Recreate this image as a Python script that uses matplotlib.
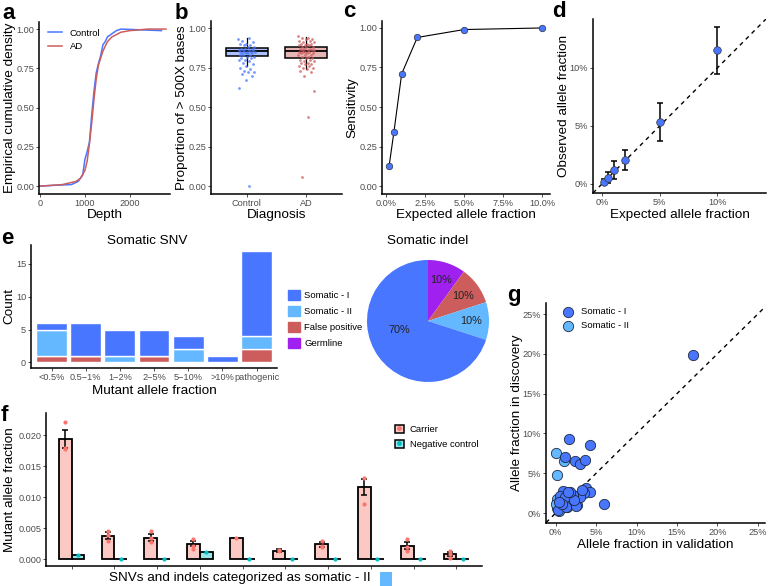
import numpy as np
import matplotlib
matplotlib.use('Agg')
import matplotlib.pyplot as plt
from matplotlib.patches import Patch, Rectangle
from matplotlib.lines import Line2D
from matplotlib.ticker import FuncFormatter

plt.rcParams['font.family'] = ['Liberation Sans', 'DejaVu Sans']

BLUE = '#4876FF'
LBLUE = '#63B8FF'
RED = '#CD5C5C'
PURPLE = '#A020F0'
GRAY = '#4D4D4D'
CARRIER = '#F8766D'
NEGCTRL = '#00BFC4'

# --- a: depth ECDF
ctrl_depth = [0, 300, 700, 850, 900, 950, 1000, 1050, 1100, 1150, 1200, 1250, 1300,
              1350, 1400, 1450, 1500, 1600, 1700, 1800, 2700]
ctrl_ecdf = [0.0, 0.005, 0.01, 0.03, 0.05, 0.07, 0.17, 0.22, 0.28, 0.45, 0.6, 0.72, 0.78,
             0.83, 0.9, 0.92, 0.95, 0.97, 0.99, 1.0, 0.99]
ad_depth = [0, 500, 800, 900, 1000, 1050, 1100, 1150, 1200, 1250, 1300, 1400, 1500,
            1600, 1800, 2000, 2400, 2800]
ad_ecdf = [0.0, 0.01, 0.03, 0.05, 0.1, 0.16, 0.27, 0.4, 0.55, 0.68, 0.77, 0.86, 0.92,
           0.95, 0.98, 0.99, 1.0, 1.0]

# --- b: proportion of > 500X bases
ctrl_box = [0.76, 0.824, 0.852, 0.877, 0.94]
ad_box = [0.74, 0.813, 0.852, 0.881, 0.945]
ctrl_prop = [0.93, 0.94, 0.92, 0.91, 0.90, 0.90, 0.89, 0.89, 0.88, 0.88, 0.87, 0.87, 0.87,
             0.86, 0.86, 0.86, 0.86, 0.85, 0.85, 0.85, 0.85, 0.85, 0.84, 0.84, 0.84, 0.84,
             0.83, 0.83, 0.83, 0.82, 0.82, 0.81, 0.81, 0.80, 0.80, 0.79, 0.78, 0.77, 0.76,
             0.75, 0.74, 0.73, 0.72, 0.72, 0.71, 0.70, 0.67, 0.62, 0.00]
ad_prop = [0.95, 0.94, 0.94, 0.93, 0.93, 0.92, 0.92, 0.91, 0.91, 0.90, 0.90, 0.90, 0.89,
           0.89, 0.89, 0.88, 0.88, 0.88, 0.87, 0.87, 0.87, 0.86, 0.86, 0.86, 0.86, 0.85,
           0.85, 0.85, 0.85, 0.84, 0.84, 0.84, 0.83, 0.83, 0.83, 0.82, 0.82, 0.81, 0.81,
           0.80, 0.80, 0.79, 0.79, 0.78, 0.78, 0.77, 0.77, 0.76, 0.76, 0.75, 0.75, 0.74,
           0.73, 0.72, 0.70, 0.60, 0.44, 0.06]

# --- c/d: dilution series
expected = [0.2, 0.5, 1, 2, 5, 10]
sensitivity = [0.13, 0.34, 0.71, 0.94, 0.99, 1.00]
observed = [0.2, 0.5, 1.2, 2.1, 5.3, 11.5]
obs_low = [0.0, 0.1, 0.4, 1.2, 3.7, 9.5]
obs_high = [0.4, 1.0, 2.0, 2.9, 7.0, 13.5]

# --- e: somatic SNV / indel
maf_bins = ['<0.5%', '0.5\u22121%', '1\u22122%', '2\u22125%', '5\u221210%', '>10%', 'pathogenic']
snv_false_pos = [1, 1, 0, 1, 0, 0, 2]
snv_somatic2 = [4, 0, 1, 0, 2, 0, 2]
snv_somatic1 = [1, 5, 4, 4, 2, 1, 13]
snv_germline = [0, 0, 0, 0, 0, 0, 0]
indel_labels = ['Germline', 'False positive', 'Somatic - II', 'Somatic - I']
indel_pct = [10, 10, 10, 70]

# --- f: somatic - II validation
carrier_mean = [0.0194, 0.0038, 0.0035, 0.0025, 0.0035, 0.0014, 0.0024, 0.0117, 0.0022, 0.0008]
carrier_se = [0.0014, 0.0006, 0.0005, 0.0004, 0.0, 0.0002, 0.0004, 0.0013, 0.0005, 0.0003]
carrier_pts = [[0.0222, 0.0180, 0.0178], [0.0046, 0.0030, 0.0039], [0.0045, 0.0034, 0.0028],
               [0.0033, 0.0021, 0.0017], [0.0035], [0.0015, 0.0013],
               [0.0030, 0.0022, 0.0019], [0.0131, 0.0089], [0.0032, 0.0020, 0.0014],
               [0.0014, 0.0008, 0.0002]]
negctrl_mean = [0.0006, 0.0001, 0.0001, 0.0012, 0.0001, 0.0001, 0.0001, 0.0001, 0.0001, 0.0001]

# --- g: discovery vs validation (%)
som1_valid = [17.0, 6.0, 1.6, 4.2, 1.2, 2.4, 3.0, 3.6, 0.9, 1.9, 3.7, 4.2, 3.5, 2.5, 1.2, 0.5,
              2.6, 1.4, 0.6, 0.3, 1.7, 3.0, 2.1, 2.5, 1.3, 1.1, 2.3, 0.8, 1.8, 3.3, 0.4, 1.5]
som1_disc = [19.9, 1.1, 9.3, 8.6, 7.0, 6.6, 6.2, 6.7, 2.8, 2.3, 3.2, 2.6, 2.5, 1.8, 1.8, 2.1,
             1.0, 0.7, 0.9, 0.4, 1.6, 2.0, 2.3, 0.9, 0.8, 2.0, 1.6, 1.2, 2.6, 2.9, 1.4, 2.7]
som2_valid = [0.0, 1.0, 0.2, 0.1, 0.1, 0.0, 0.4]
som2_disc = [7.6, 6.5, 4.8, 1.8, 0.6, 1.2, 0.3]

W, H = 768, 586
fig = plt.figure(figsize=(W / 100, H / 100), dpi=100)


def add_ax(x0, y0, x1, y1):
    return fig.add_axes([x0 / W, 1 - y1 / H, (x1 - x0) / W, (y1 - y0) / H])


def classic(ax):
    for s in ['top', 'right']:
        ax.spines[s].set_visible(False)
    for s in ['left', 'bottom']:
        ax.spines[s].set_linewidth(1.1)
    ax.tick_params(labelsize=6.6, labelcolor=GRAY, length=2.5, width=0.6,
                   color='#333333', pad=1.0)


def labels(ax, xlab, ylab, xl_y, yl_x):
    # place axis titles by their centres, in axes fractions
    if xlab:
        ax.set_xlabel(xlab, fontsize=LAB)
        ax.xaxis.set_label_coords(0.5, xl_y)
        ax.xaxis.label.set_va('center')
    ax.set_ylabel(ylab, fontsize=LAB)
    ax.yaxis.set_label_coords(yl_x, 0.5)
    ax.yaxis.label.set_va('center')


pct = FuncFormatter(lambda v, p: f'{v:g}%')
LAB = 9.7

# a
ax = add_ax(39, 22, 170, 194)
classic(ax)
ax.plot(ctrl_depth, ctrl_ecdf, color=BLUE, lw=1.1, label='Control')
ax.plot(ad_depth, ad_ecdf, color=RED, lw=1.1, label='AD')
ax.set_xlim(-20, 2890)
ax.set_ylim(-0.05, 1.045)
ax.set_xticks([0, 1000, 2000])
ax.set_yticks([0, 0.25, 0.5, 0.75, 1.0])
ax.yaxis.set_major_formatter(FuncFormatter(lambda v, p: f'{v:.2f}'))
labels(ax, 'Depth', 'Empirical cumulative density', -0.124, -0.221)
ax.legend(loc='upper left', frameon=False, fontsize=6.8, handlelength=1.5,
          bbox_to_anchor=(0.02, 1.0), borderaxespad=0.3)

# b
ax = add_ax(211, 21, 342, 194)
classic(ax)
for i, (box, col) in enumerate([(ctrl_box, BLUE), (ad_box, RED)]):
    st = dict(whislo=box[0], q1=box[1], med=box[2], q3=box[3], whishi=box[4], fliers=[])
    ax.bxp([st], positions=[i + 1], widths=0.7, patch_artist=True, showcaps=False,
           boxprops=dict(facecolor=matplotlib.colors.to_rgba(col, 0.45), edgecolor='black', lw=1.1),
           medianprops=dict(color='black', lw=1.3), whiskerprops=dict(color='black', lw=0.9),
           manage_ticks=False, zorder=2)
for i, (vals, col) in enumerate([(ctrl_prop, BLUE), (ad_prop, RED)]):
    n = len(vals)
    jit = ((np.arange(n) * 0.618034) % 1 - 0.5) * 0.28
    ax.scatter(i + 1 + jit, vals, s=4, color=col, alpha=0.75, lw=0, zorder=3)
ax.set_xlim(0.4, 2.6)
ax.set_ylim(-0.05, 1.045)
ax.set_xticks([1, 2])
ax.set_xticklabels(['Control', 'AD'])
ax.set_yticks([0, 0.25, 0.5, 0.75, 1.0])
ax.yaxis.set_major_formatter(FuncFormatter(lambda v, p: f'{v:.2f}'))
labels(ax, 'Diagnosis', 'Proportion of > 500X bases', -0.123, -0.222)

# c
ax = add_ax(382, 21, 550, 194)
classic(ax)
ax.plot(expected, sensitivity, color='black', lw=0.8, zorder=2)
ax.scatter(expected, sensitivity, s=22, color=BLUE, edgecolor='#333333', lw=0.5, zorder=3)
ax.set_xlim(-0.26, 10.5)
ax.set_ylim(-0.05, 1.044)
ax.set_xticks([0, 2.5, 5, 7.5, 10])
ax.xaxis.set_major_formatter(FuncFormatter(lambda v, p: f'{v:.1f}%'))
ax.set_yticks([0, 0.25, 0.5, 0.75, 1.0])
ax.yaxis.set_major_formatter(FuncFormatter(lambda v, p: f'{v:.2f}'))
labels(ax, 'Expected allele fraction', 'Sensitivity', -0.123, -0.173)

# d
ax = add_ax(593, 19, 766, 193)
classic(ax)
ax.axline((0, 0), slope=1, color='black', lw=1.0, ls=(0, (3, 3)), zorder=1)
yerr = [np.subtract(observed, obs_low), np.subtract(obs_high, observed)]
ax.errorbar(expected, observed, yerr=yerr, fmt='none', ecolor='black', elinewidth=1.1,
            capsize=2, capthick=1.1, zorder=2)
ax.scatter(expected, observed, s=30, color=BLUE, edgecolor='#333333', lw=0.5, zorder=3)
ax.set_xlim(-0.78, 14.2)
ax.set_ylim(-0.78, 14.2)
ax.set_xticks([0, 5, 10])
ax.set_yticks([0, 5, 10])
ax.xaxis.set_major_formatter(pct)
ax.yaxis.set_major_formatter(pct)
labels(ax, 'Expected allele fraction', 'Observed allele fraction', -0.128, -0.168)

# e bars
ax = add_ax(31, 245, 277, 368)
classic(ax)
xs = np.arange(1, len(maf_bins) + 1)
b1 = np.array(snv_false_pos)
b2 = b1 + np.array(snv_somatic2)
ax.bar(xs, snv_false_pos, width=0.9, color=RED, edgecolor='white', lw=1)
ax.bar(xs, snv_somatic2, bottom=b1, width=0.9, color=LBLUE, edgecolor='white', lw=1)
ax.bar(xs, snv_somatic1, bottom=b2, width=0.9, color=BLUE, edgecolor='white', lw=1)
ax.bar(xs, snv_germline, bottom=b2 + np.array(snv_somatic1), width=0.9, color=PURPLE, lw=0)
ax.set_xlim(0.4, 7.6)
ax.set_ylim(-0.85, 17.85)
ax.set_xticks(xs)
ax.set_xticklabels(maf_bins)
ax.set_yticks([0, 5, 10, 15])
labels(ax, 'Mutant allele fraction', 'Count', -0.19, -0.089)
fig.text(147 / W, 1 - 241 / H, 'Somatic SNV', fontsize=LAB, ha='center', va='center')
handles = [Patch(color=BLUE, label='Somatic - I'), Patch(color=LBLUE, label='Somatic - II'),
           Patch(color=RED, label='False positive'), Patch(color=PURPLE, label='Germline')]
fig.legend(handles=handles, loc='upper left', bbox_to_anchor=(279 / W, 1 - 281 / H),
           frameon=False, fontsize=6.8, handlelength=1.3, handleheight=1.3,
           labelspacing=0.62, handletextpad=0.5)

# e pie
ax = add_ax(367, 260, 489, 382)
wedges, txts, autos = ax.pie(indel_pct, colors=[PURPLE, RED, LBLUE, BLUE], startangle=90,
                             counterclock=False, autopct='%d%%', pctdistance=0.7,
                             textprops=dict(fontsize=7.8, color='#222222'))
autos[3].set_position((-0.47, -0.15))
ax.set_xlim(-1, 1)
ax.set_ylim(-1, 1)
fig.text(428 / W, 1 - 241 / H, 'Somatic indel', fontsize=LAB, ha='center', va='center')

# f
ax = add_ax(46, 413, 482, 566)
classic(ax)
gx = np.arange(1, len(carrier_mean) + 1)
ax.bar(gx - 0.15, carrier_mean, width=0.3, color=matplotlib.colors.to_rgba(CARRIER, 0.4),
       edgecolor='black', lw=1.3, zorder=2)
ax.bar(gx + 0.15, negctrl_mean, width=0.3, color=matplotlib.colors.to_rgba(NEGCTRL, 0.4),
       edgecolor='black', lw=1.3, zorder=2)
ax.errorbar(gx - 0.15, carrier_mean, yerr=carrier_se, fmt='none', ecolor='black',
            elinewidth=1.1, capsize=2.5, capthick=1.1, zorder=3)
for g, pts in zip(gx, carrier_pts):
    ax.scatter([g - 0.15] * len(pts), pts, s=9, color=CARRIER, lw=0, zorder=4)
ax.scatter(gx + 0.15, negctrl_mean, s=9, color=NEGCTRL, lw=0, zorder=4)
ax.set_xlim(0.4, 10.6)
ax.set_ylim(-0.0011, 0.0236)
ax.set_xticks(gx)
ax.set_xticklabels([''] * len(gx))
ax.set_yticks([0, 0.005, 0.01, 0.015, 0.02])
ax.yaxis.set_major_formatter(FuncFormatter(lambda v, p: f'{v:.3f}'))
labels(ax, None, 'Mutant allele fraction', None, -0.083)
h_car = (Patch(facecolor=matplotlib.colors.to_rgba(CARRIER, 0.4), edgecolor='black', lw=1.1),
         Line2D([], [], ls='none', marker='o', ms=2.5, color=CARRIER))
h_neg = (Patch(facecolor=matplotlib.colors.to_rgba(NEGCTRL, 0.4), edgecolor='black', lw=1.1),
         Line2D([], [], ls='none', marker='o', ms=2.5, color=NEGCTRL))
ax.legend([h_car, h_neg], ['Carrier', 'Negative control'], loc='upper left',
          bbox_to_anchor=(0.78, 0.98), frameon=False, fontsize=6.8, handlelength=1.0,
          handleheight=1.0, labelspacing=0.6, handletextpad=0.6)
fig.text(240 / W, 1 - 578 / H, 'SNVs and indels categorized as somatic - II',
         ha='center', va='center', fontsize=LAB)
fig.add_artist(Rectangle((380 / W, 0), 12 / W, 14 / H, transform=fig.transFigure,
                         color=LBLUE, lw=0))

# g
ax = add_ax(546, 303, 765, 523)
classic(ax)
ax.axline((0, 0), slope=1, color='black', lw=1.0, ls=(0, (3, 3)), zorder=1)
ax.scatter(som2_valid, som2_disc, s=55, color=LBLUE, edgecolor='#1E2A40', lw=0.6,
           zorder=2, label='Somatic - II')
ax.scatter(som1_valid, som1_disc, s=55, color=BLUE, edgecolor='#1E2A40', lw=0.6,
           zorder=3, label='Somatic - I')
ax.set_xlim(-1.2, 25.9)
ax.set_ylim(-1.25, 26.4)
ax.set_xticks([0, 5, 10, 15, 20, 25])
ax.set_yticks([0, 5, 10, 15, 20, 25])
ax.xaxis.set_major_formatter(pct)
ax.yaxis.set_major_formatter(pct)
labels(ax, 'Allele fraction in validation', 'Allele fraction in discovery', -0.1, -0.132)
hs, ls = ax.get_legend_handles_labels()
ax.legend(hs[::-1], ls[::-1], loc='upper left', bbox_to_anchor=(0.02, 1.02),
          frameon=False, fontsize=6.8, handletextpad=0.3, labelspacing=0.55)

# panel letters
for lab, x, y in [('a', 2, 19), ('b', 175, 19), ('c', 343, 17), ('d', 552, 17),
                  ('e', 1, 244), ('f', 1, 421), ('g', 507, 301)]:
    fig.text(x / W, 1 - y / H, lab, fontsize=16, fontweight='bold', va='baseline')

fig.savefig('out.png', dpi=100)
